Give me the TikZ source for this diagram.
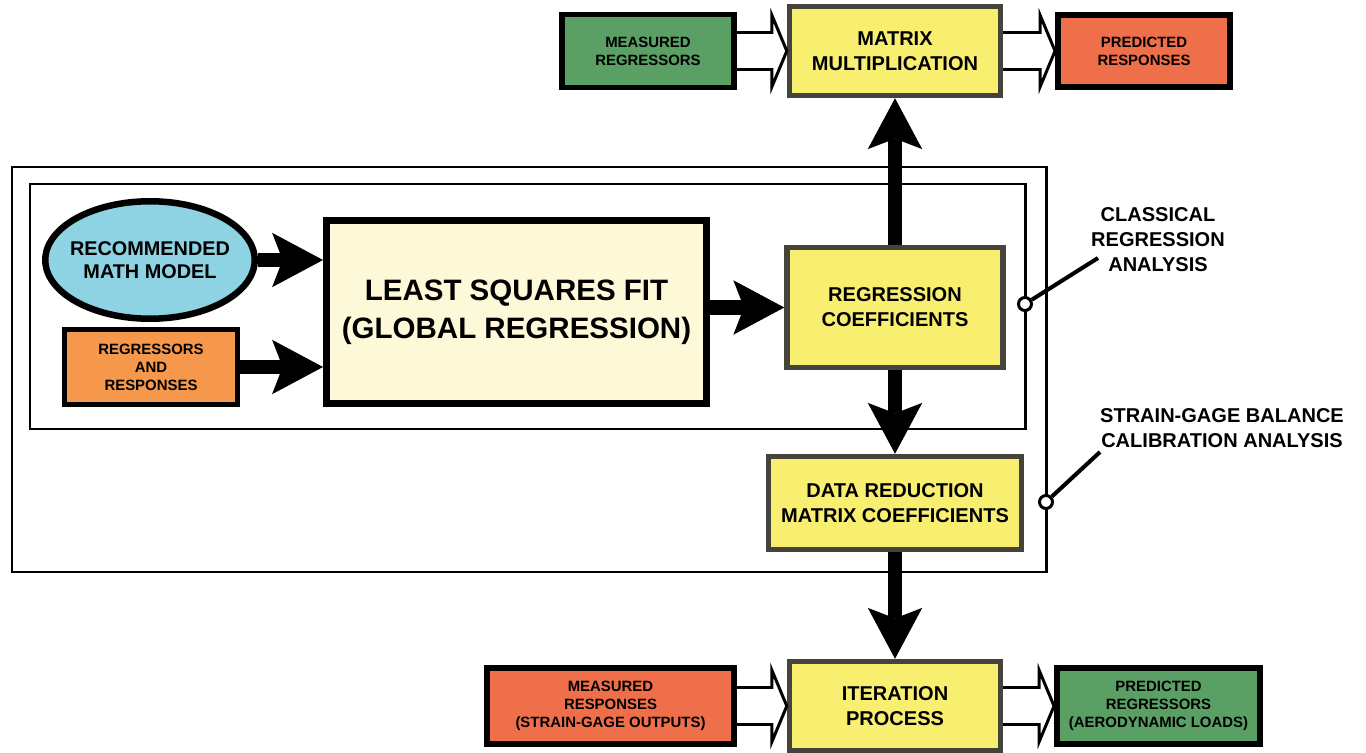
\documentclass[tikz,border=0pt]{standalone}
\usepackage{fontspec}
\setmainfont{Liberation Sans}
\usepackage{xcolor}
\usepackage{tikz}
\usetikzlibrary{arrows.meta,positioning,shapes.geometric,calc}

\definecolor{skyfill}{HTML}{8DD3E3}
\definecolor{orangefill}{HTML}{F5984B}
\definecolor{creamfill}{HTML}{FDF8D8}
\definecolor{yellowfill}{HTML}{F8EF70}
\definecolor{greenfill}{HTML}{5AA064}
\definecolor{redfill}{HTML}{F06F4B}
\definecolor{boxgray}{HTML}{45443A}

\begin{document}
\begin{tikzpicture}[
    x=0.02cm, y=-0.02cm,
    font=\fontsize{11.4}{14.2}\selectfont\bfseries,
    block/.style={draw, align=center, inner sep=0pt, line width=3.1pt},
    ybox/.style={block, draw=boxgray, fill=yellowfill},
    small/.style={font=\fontsize{8.5}{10.2}\selectfont\bfseries},
    frame/.style={line width=1.7pt},
    bigarrow/.style={-{Stealth[length=29pt, width=31pt, inset=6pt, line width=0pt]}, line width=8.5pt},
    hollow/.style={line width=1.7pt, line join=miter, to path={
        ($(\tikztostart)+(0,-18.5)$) -- ($(\tikztotarget)+(-15,-18.5)$) -- ($(\tikztotarget)+(-15,-36)$)
        -- (\tikztotarget) -- ($(\tikztotarget)+(-15,36)$) -- ($(\tikztotarget)+(-15,18.5)$)
        -- ($(\tikztostart)+(0,18.5)$)}},
    ring/.style={circle, draw, fill=white, line width=1.7pt, minimum size=0.26cm, inner sep=0pt},
    leader/.style={line width=2.3pt},
    note/.style={align=center, inner sep=0pt}
  ]
    \useasboundingbox (0,0) rectangle (1366,753);

    % the two analysis frames
    \draw[frame] (12,167) rectangle (1046,572);
    \draw[frame] (30,184) rectangle (1025,429);

    % top row
    \node[block, small, fill=greenfill, line width=3.4pt, minimum width=3.44cm, minimum height=1.46cm] (mreg) at (648,51) {MEASURED\\REGRESSORS};
    \node[ybox, minimum width=4.22cm, minimum height=1.78cm] (mm) at (895,51) {MATRIX\\MULTIPLICATION};
    \node[block, small, fill=redfill, line width=3.4pt, minimum width=3.44cm, minimum height=1.44cm] (presp) at (1144,51) {PREDICTED\\RESPONSES};

    % regression part
    \node[block, ellipse, fill=skyfill, line width=3.7pt, inner xsep=-0.8cm, minimum width=4.19cm, minimum height=2.35cm, font=\fontsize{11.3}{13}\selectfont\bfseries] (model) at (150,260) {RECOMMENDED\\MATH MODEL};
    \node[block, small, fill=orangefill, minimum width=3.45cm, minimum height=1.49cm] (rr) at (151,367) {REGRESSORS\\AND\\RESPONSES};
    \node[block, fill=creamfill, line width=4pt, minimum width=7.6cm, minimum height=3.66cm, font=\fontsize{16.8}{21.5}\selectfont\bfseries] (lsf) at (516.5,312) {LEAST SQUARES FIT\\(GLOBAL REGRESSION)};
    \node[ybox, minimum width=4.32cm, minimum height=2.4cm] (rc) at (895,307.5) {REGRESSION\\COEFFICIENTS};
    \node[ybox, minimum width=5.06cm, minimum height=1.86cm] (drm) at (895,503) {DATA REDUCTION\\MATRIX COEFFICIENTS};

    % bottom row
    \node[block, small, fill=redfill, line width=3.4pt, minimum width=4.94cm, minimum height=1.52cm] (mresp) at (610.5,706) {MEASURED\\RESPONSES\\(STRAIN-GAGE OUTPUTS)};
    \node[ybox, minimum width=4.22cm, minimum height=1.78cm] (ip) at (895,706) {ITERATION\\PROCESS};
    \node[block, small, fill=greenfill, line width=3.4pt, minimum width=4.06cm, minimum height=1.52cm] (preg) at (1158.5,706) {PREDICTED\\REGRESSORS\\(AERODYNAMIC LOADS)};

    % side labels
    \node[note] (lab1) at (1158,240) {CLASSICAL\\REGRESSION\\ANALYSIS};
    \node[note] (lab2) at (1222,428) {STRAIN-GAGE BALANCE\\CALIBRATION ANALYSIS};
    \coordinate (tip1) at (1098,258);
    \coordinate (tip2) at (1100,452);

    \draw[bigarrow] (model.east) -- (model.east -| lsf.west);
    \draw[bigarrow] (rr.east) -- (rr.east -| lsf.west);
    \draw[bigarrow] (lsf.east |- rc.west) -- (rc.west);
    \draw[bigarrow] (rc.north) -- (mm.south);
    \draw[bigarrow] (rc.south) -- (drm.north);
    \draw[bigarrow] (drm.south) -- (ip.north);

    \draw[hollow] (mreg.east) to (mm.west);
    \draw[hollow] (mm.east) to (presp.west);
    \draw[hollow] (mresp.east) to (ip.west);
    \draw[hollow] (ip.east) to (preg.west);

    \node[ring] (ring1) at (1025,304) {};
    \node[ring] (ring2) at (1046,502) {};
    \draw[leader] (ring1) -- (tip1);
    \draw[leader] (ring2) -- (tip2);
  \end{tikzpicture}
\end{document}
